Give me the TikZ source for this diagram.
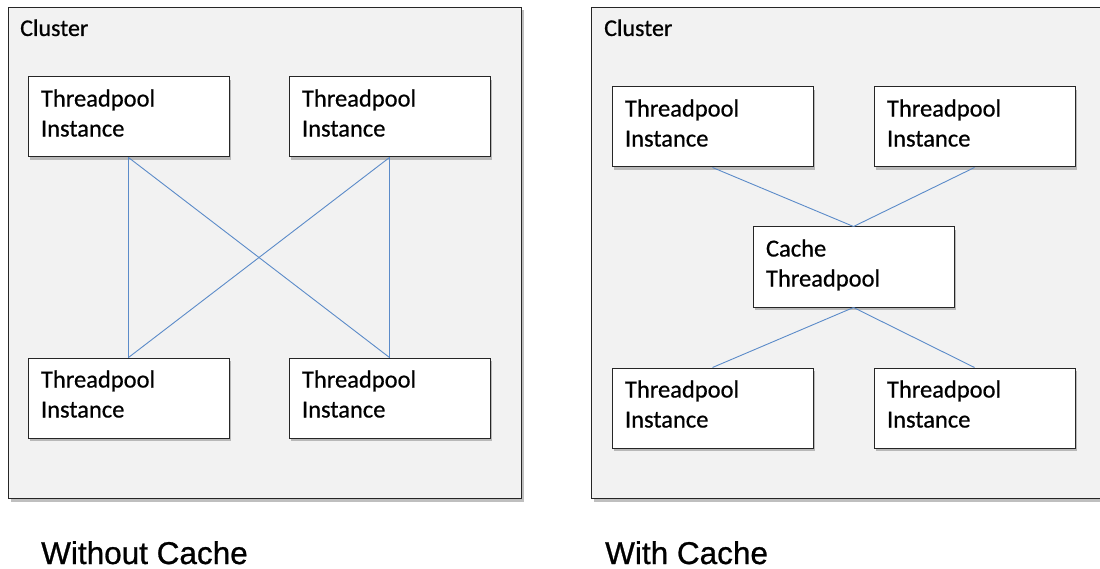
\documentclass[tikz,border=0pt]{standalone}
\usepackage{fontspec}
\setmainfont{Carlito}[FakeBold=0.6]
\newfontfamily\capfont{Liberation Sans}[FakeBold=0.8]
\usetikzlibrary{shadows}
\definecolor{clusterfill}{HTML}{F2F2F2}
\definecolor{linkblue}{HTML}{5B8BC9}
\begin{document}
\begin{tikzpicture}[x=1pt,y=-1pt,
  clusterbox/.style={draw=black!85,line width=1pt,fill=clusterfill,anchor=north west,inner sep=0pt,
    drop shadow={shadow xshift=2pt,shadow yshift=-3pt,fill=black!50}},
  tpbox/.style={draw=black!85,line width=1pt,fill=white,minimum width=201pt,minimum height=80pt,
    text width=175pt,inner xsep=13pt,align=left,font=\fontsize{24.5}{30}\selectfont,text depth=38pt,
    drop shadow={shadow xshift=2pt,shadow yshift=-3pt,fill=black!50}},
  link/.style={linkblue,line width=0.9pt},
  clusterlabel/.style={anchor=base west,inner sep=0pt,font=\fontsize{24}{30}\selectfont},
  caption/.style={anchor=base west,inner sep=0pt,font=\capfont\fontsize{31.5}{36}\selectfont}]
  \useasboundingbox (0,0) rectangle (1100,569);
  % without cache
  \node[clusterbox,minimum width=513pt,minimum height=491pt] (leftcluster) at (8,7) {};
  \node[clusterlabel] (leftlabel) at (20,36) {Cluster};
  \node[tpbox] (ltl) at (128.5,117) {Threadpool\\Instance};
  \node[tpbox] (ltr) at (389.5,117) {Threadpool\\Instance};
  \node[tpbox] (lbl) at (128.5,398) {Threadpool\\Instance};
  \node[tpbox] (lbr) at (389.5,398) {Threadpool\\Instance};
  \draw[link] (ltl.south) -- (lbl.north);
  \draw[link] (ltl.south) -- (lbr.north);
  \draw[link] (ltr.south) -- (lbl.north);
  \draw[link] (ltr.south) -- (lbr.north);
  \node[caption] (leftcap) at (41,564) {Without Cache};
  % with cache
  \node[clusterbox,minimum width=515pt,minimum height=491pt] (rightcluster) at (591,7) {};
  \node[clusterlabel] (rightlabel) at (604,36) {Cluster};
  \node[tpbox] (rtl) at (712.5,127) {Threadpool\\Instance};
  \node[tpbox] (rtr) at (974.5,127) {Threadpool\\Instance};
  \node[tpbox] (cache) at (853.5,267) {Cache\\Threadpool};
  \node[tpbox] (rbl) at (712.5,408) {Threadpool\\Instance};
  \node[tpbox] (rbr) at (974.5,408) {Threadpool\\Instance};
  \draw[link] (rtl.south) -- (cache.north);
  \draw[link] (rtr.south) -- (cache.north);
  \draw[link] (cache.south) -- (rbl.north);
  \draw[link] (cache.south) -- (rbr.north);
  \node[caption] (rightcap) at (605,564) {With Cache};
\end{tikzpicture}
\end{document}
